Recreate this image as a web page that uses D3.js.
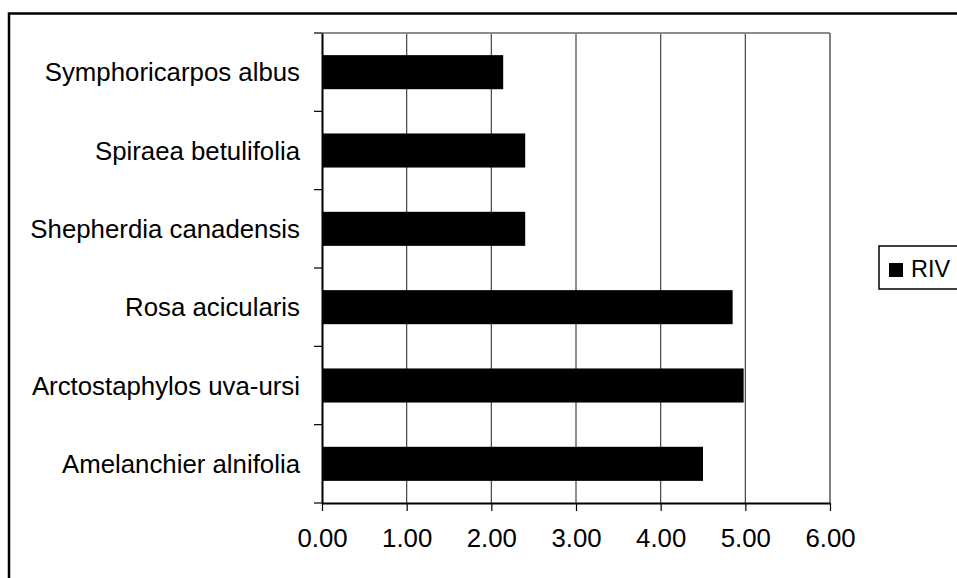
<!DOCTYPE html>
<html>
<head>
<meta charset="utf-8">
<script src="https://cdn.jsdelivr.net/npm/d3@7"></script>
<style>
  html, body { margin: 0; padding: 0; background: #fff; }
  svg { display: block; font-family: "Liberation Sans", Arial, sans-serif; }
</style>
</head>
<body>
<svg id="chart" width="957" height="578"></svg>
<script>
// Shrub species, listed bottom to top as they appear on the axis
const species = [
  "Amelanchier alnifolia",
  "Arctostaphylos uva-ursi",
  "Rosa acicularis",
  "Shepherdia canadensis",
  "Spiraea betulifolia",
  "Symphoricarpos albus"
];
// Relative importance value for each species
const rivValues = [4.50, 4.98, 4.85, 2.40, 2.40, 2.14];
const xTicks = [0, 1, 2, 3, 4, 5, 6];
const seriesName = "RIV";

const svg = d3.select("#chart");
const W = 957, H = 578;
const plot = { left: 322, top: 33, right: 830, bottom: 503 };
const labelSize = 25.8;

// Outer chart frame (runs past the right and bottom edges)
svg.append("rect")
  .attr("x", 9).attr("y", 13.5)
  .attr("width", W + 20).attr("height", H + 20)
  .attr("fill", "#fff").attr("stroke", "#000").attr("stroke-width", 2.5);

const x = d3.scaleLinear().domain([0, 6]).range([plot.left, plot.right]);
const y = d3.scaleBand()
  .domain(species.slice().reverse())
  .range([plot.top, plot.bottom])
  .paddingInner(0.565).paddingOuter(0.2825);

const yBands = d3.scaleBand().domain(species.slice().reverse()).range([plot.top, plot.bottom]);

// Vertical gridlines
svg.append("g")
  .selectAll("line")
  .data(xTicks.filter(d => d > 0 && d < 6))
  .join("line")
  .attr("x1", d => x(d)).attr("x2", d => x(d))
  .attr("y1", plot.top).attr("y2", plot.bottom)
  .attr("stroke", "#444").attr("stroke-width", 1.2);

// Plot area top and right edges
svg.append("line")
  .attr("x1", plot.left).attr("x2", plot.right)
  .attr("y1", plot.top).attr("y2", plot.top)
  .attr("stroke", "#8c8c8c").attr("stroke-width", 2);
svg.append("line")
  .attr("x1", plot.right).attr("x2", plot.right)
  .attr("y1", plot.top).attr("y2", plot.bottom)
  .attr("stroke", "#808080").attr("stroke-width", 2);

// Bars
svg.append("g")
  .selectAll("rect")
  .data(species.map((s, i) => ({ s, v: rivValues[i] })))
  .join("rect")
  .attr("x", x(0))
  .attr("y", d => y(d.s))
  .attr("width", d => x(d.v) - x(0))
  .attr("height", y.bandwidth())
  .attr("fill", "#000");

// Category axis
const yAxis = svg.append("g")
  .attr("transform", `translate(${plot.left},0)`)
  .call(d3.axisLeft(yBands).tickSize(0).tickPadding(22));
yAxis.select(".domain").attr("stroke", "#000").attr("stroke-width", 2);
yAxis.selectAll("text")
  .attr("font-size", labelSize).attr("fill", "#000")
  .attr("font-family", "Liberation Sans, Arial, sans-serif")
  .attr("dy", "0.35em");

// Tick marks between categories
const boundaries = yBands.domain().map(d => yBands(d)).concat([plot.bottom]);
svg.append("g")
  .selectAll("line")
  .data(boundaries)
  .join("line")
  .attr("x1", plot.left - 8).attr("x2", plot.left)
  .attr("y1", d => d).attr("y2", d => d)
  .attr("stroke", "#000").attr("stroke-width", 1.2);

// Value axis
const xAxis = svg.append("g")
  .attr("transform", `translate(0,${plot.bottom})`)
  .call(d3.axisBottom(x).tickValues(xTicks).tickFormat(d3.format(".2f"))
    .tickSize(8).tickSizeOuter(0).tickPadding(18));
xAxis.select(".domain").attr("stroke", "#000").attr("stroke-width", 2);
xAxis.selectAll(".tick line").attr("stroke", "#000").attr("stroke-width", 1.2);
xAxis.selectAll("text")
  .attr("font-size", labelSize).attr("fill", "#000")
  .attr("font-family", "Liberation Sans, Arial, sans-serif");

// Legend
const lg = svg.append("g").attr("transform", "translate(879,246)");
lg.append("rect")
  .attr("x", 0).attr("y", 0).attr("width", 90).attr("height", 43)
  .attr("fill", "#fff").attr("stroke", "#000").attr("stroke-width", 1.5);
lg.append("rect")
  .attr("x", 10).attr("y", 17).attr("width", 14).attr("height", 14)
  .attr("fill", "#000");
lg.append("text")
  .attr("x", 32).attr("y", 31)
  .attr("font-size", 23.5).attr("fill", "#000")
  .text(seriesName);
</script>
</body>
</html>
